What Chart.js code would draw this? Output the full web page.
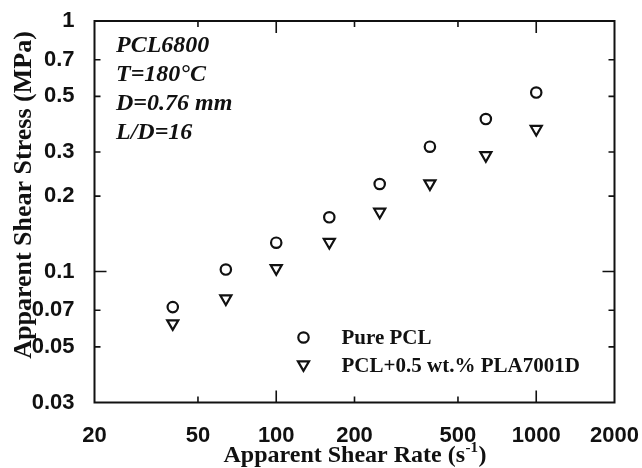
<!DOCTYPE html>
<html><head><meta charset="utf-8">
<script src="https://cdn.jsdelivr.net/npm/chart.js@4.4.1/dist/chart.umd.min.js"></script>
<style>html,body{margin:0;padding:0;background:#fff}canvas{display:block}</style>
</head><body>
<canvas id="c" width="642" height="468"></canvas>
<script>
const shearRate = [40, 64, 100, 160, 250, 390, 640, 1000];
const purePCL = [0.0721, 0.1018, 0.1303, 0.1646, 0.2235, 0.315, 0.406, 0.518];
const blendPCL = [0.062, 0.078, 0.103, 0.131, 0.173, 0.2245, 0.291, 0.370];
const xTickValues = [20, 50, 100, 200, 500, 1000, 2000];
const yTickValues = [0.03, 0.05, 0.07, 0.1, 0.2, 0.3, 0.5, 0.7, 1];
const seriesNames = ['Pure PCL', 'PCL+0.5 wt.% PLA7001D'];
const annotationLines = ['PCL6800', 'T=180°C', 'D=0.76 mm', 'L/D=16'];
const xTitleMain = 'Apparent Shear Rate (s';
const xTitleSup = '-1';
const xTitleEnd = ')';
const yTitle = 'Apparent Shear Stress (MPa)';

const INK = '#111';
const SERIF = '"Liberation Serif","Times New Roman",serif';
const SANS = '"Liberation Sans",Arial,sans-serif';

function toPoints(xs, ys) { return xs.map((x, i) => ({x: x, y: ys[i]})); }

function drawCircle(ctx, x, y, r) {
  ctx.beginPath(); ctx.arc(x, y, r, 0, Math.PI * 2); ctx.stroke();
}
function drawDownTriangle(ctx, x, y, r) {
  ctx.beginPath();
  for (let k = 0; k < 3; k++) {
    const a = Math.PI + k * 2 * Math.PI / 3;
    const px = x + Math.sin(a) * r, py = y - Math.cos(a) * r;
    if (k === 0) ctx.moveTo(px, py); else ctx.lineTo(px, py);
  }
  ctx.closePath(); ctx.stroke();
}

const decorPlugin = {
  id: 'decor',
  afterDraw(chart) {
    const ctx = chart.ctx, a = chart.chartArea;
    const xs = chart.scales.x, ys = chart.scales.y;
    ctx.save();
    ctx.strokeStyle = INK; ctx.fillStyle = INK;
    // inner ticks on all four sides
    ctx.lineWidth = 1.6;
    xTickValues.forEach(v => {
      if (v <= xs.min || v >= xs.max) return;
      const px = xs.getPixelForValue(v);
      const len = Math.abs(Math.log10(v) - Math.round(Math.log10(v))) < 1e-9 ? 12 : 6;
      ctx.beginPath();
      ctx.moveTo(px, a.bottom); ctx.lineTo(px, a.bottom - len);
      ctx.moveTo(px, a.top); ctx.lineTo(px, a.top + len);
      ctx.stroke();
    });
    yTickValues.forEach(v => {
      if (v <= ys.min || v >= ys.max) return;
      const py = ys.getPixelForValue(v);
      const len = Math.abs(Math.log10(v) - Math.round(Math.log10(v))) < 1e-9 ? 12 : 6;
      ctx.beginPath();
      ctx.moveTo(a.left, py); ctx.lineTo(a.left + len, py);
      ctx.moveTo(a.right, py); ctx.lineTo(a.right - len, py);
      ctx.stroke();
    });
    // frame
    ctx.lineWidth = 2;
    ctx.strokeRect(a.left, a.top, a.right - a.left, a.bottom - a.top);

    // annotation
    ctx.font = 'italic bold 24px ' + SERIF;
    ctx.textAlign = 'left'; ctx.textBaseline = 'middle';
    annotationLines.forEach((t, i) => ctx.fillText(t, a.left + 21.5, a.top + 24.5 + i * 29));

    // legend
    ctx.lineWidth = 2.2;
    const lx = a.left + 209, ly1 = a.top + 316.5, ly2 = a.top + 345;
    drawCircle(ctx, lx, ly1, 5.2);
    drawDownTriangle(ctx, lx, ly2 - 1.5, 6.4);
    ctx.font = 'bold 21px ' + SERIF;
    ctx.fillText(seriesNames[0], a.left + 247, ly1 + 1);
    ctx.fillText(seriesNames[1], a.left + 247, ly2 + 1);

    // x title with superscript
    ctx.textBaseline = 'alphabetic';
    const mainFont = 'bold 24px ' + SERIF, supFont = 'bold 15px ' + SERIF;
    ctx.font = mainFont; const w1 = ctx.measureText(xTitleMain).width;
    const w3 = ctx.measureText(xTitleEnd).width;
    ctx.font = supFont; const w2 = ctx.measureText(xTitleSup).width;
    const total = w1 + w2 + w3;
    let x0 = (a.left + a.right) / 2 - total / 2;
    const base = 462;
    ctx.font = mainFont; ctx.fillText(xTitleMain, x0, base);
    ctx.font = supFont; ctx.fillText(xTitleSup, x0 + w1 + 0.5, base - 10);
    ctx.font = mainFont; ctx.fillText(xTitleEnd, x0 + w1 + w2 + 1, base);

    // y title
    ctx.save();
    ctx.translate(30.5, 195);
    ctx.rotate(-Math.PI / 2);
    ctx.font = 'bold 26px ' + SERIF;
    ctx.textAlign = 'center';
    ctx.fillText(yTitle, 0, 0);
    ctx.restore();
    ctx.restore();
  }
};

new Chart(document.getElementById('c'), {
  type: 'scatter',
  data: {
    datasets: [
      {
        label: seriesNames[0],
        data: toPoints(shearRate, purePCL),
        pointStyle: 'circle', pointRadius: 5.2, pointBorderWidth: 2.2,
        borderColor: INK, backgroundColor: 'rgba(0,0,0,0)', showLine: false
      },
      {
        label: seriesNames[1],
        data: toPoints(shearRate, blendPCL),
        pointStyle: 'triangle', pointRotation: 180, pointRadius: 6.4, pointBorderWidth: 2.2,
        borderColor: INK, backgroundColor: 'rgba(0,0,0,0)', showLine: false
      }
    ]
  },
  options: {
    responsive: false,
    animation: false,
    events: [],
    layout: { padding: { left: 0, right: 27.5, top: 21, bottom: 0 } },
    plugins: { legend: { display: false }, tooltip: { enabled: false } },
    scales: {
      x: {
        type: 'logarithmic', min: 20, max: 2000,
        grid: { display: false }, border: { display: false },
        afterBuildTicks(s) { s.ticks = xTickValues.map(v => ({ value: v })); },
        afterFit(s) { s.height = 65.5; s.paddingLeft = 0; s.paddingRight = 0; },
        ticks: {
          autoSkip: false, maxRotation: 0, padding: 12, color: INK,
          font: { family: SANS, size: 22, weight: 'bold' },
          callback: v => String(v)
        }
      },
      y: {
        type: 'logarithmic', min: 0.03, max: 1,
        grid: { display: false }, border: { display: false },
        afterBuildTicks(s) { s.ticks = yTickValues.map(v => ({ value: v })); },
        afterFit(s) { s.width = 94.5; s.paddingTop = 0; s.paddingBottom = 0; },
        ticks: {
          autoSkip: false, padding: 12, color: INK,
          font: { family: SANS, size: 22, weight: 'bold' },
          callback: v => String(v)
        }
      }
    }
  },
  plugins: [decorPlugin]
});
</script>
</body></html>
